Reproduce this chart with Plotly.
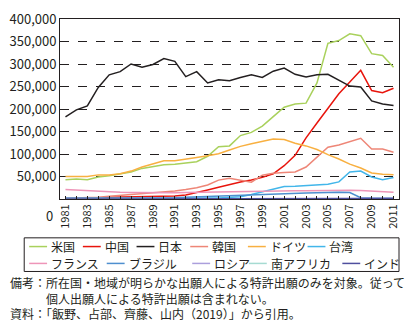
import plotly.graph_objects as go

years = list(range(1981, 2012))

us = [43000, 44500, 43000, 49000, 51500, 55000, 60000, 68000, 72500, 76000, 77500, 80000, 83000, 95000,
      116000, 118000, 141000, 148000, 162000, 183000, 204000, 211000, 213000, 258000, 346000, 352000,
      367000, 363000, 323000, 319000, 293000]
china = [100, 300, 400, 500, 4000, 4500, 5000, 5500, 5500, 6000, 6500, 9000, 14000, 20000, 26000, 32000,
         38000, 42000, 48000, 56000, 74000, 97000, 136000, 169000, 202000, 234000, 260000, 286000, 241000,
         236000, 246000]
japan = [182600, 198000, 207000, 248000, 276000, 283000, 300000, 293000, 299000, 312000, 306000, 272000,
         283000, 258000, 265000, 263000, 270000, 276000, 270000, 284000, 291000, 277000, 271000, 276000,
         277000, 264000, 251000, 249000, 218000, 211000, 208000]
korea = [1500, 2000, 2500, 4000, 6000, 8000, 10000, 11500, 13000, 15000, 18000, 21000, 25000, 31000, 42000,
         46000, 41000, 37500, 53000, 57000, 59000, 60000, 71000, 94000, 115000, 120000, 128000, 135000,
         111000, 111000, 104000]
germany = [50000, 50000, 50000, 53600, 53600, 56000, 62000, 71000, 77500, 85000, 85000, 88000, 92000, 96000,
           100600, 109000, 117000, 123000, 128000, 133500, 132000, 124000, 118000, 110000, 98500, 89000,
           77500, 69000, 58000, 55000, 54000]
taiwan = [500, 500, 500, 500, 500, 600, 600, 700, 800, 900, 1000, 1200, 1500, 2000, 2500, 3000, 5000,
          10000, 16000, 22000, 28000, 28500, 30000, 31000, 33000, 38000, 60000, 62000, 49000, 43000, 48000]
france = [21000, 19500, 18000, 17000, 16000, 15000, 14500, 14000, 14000, 14000, 14000, 14500, 15000, 15500,
          16000, 16500, 17000, 18000, 18500, 18500, 18500, 18500, 18500, 19000, 19500, 19500, 19500, 19000,
          18000, 17000, 15000]
brazil = [2000, 2000, 2000, 2000, 2000, 2000, 2000, 2000, 2000, 2000, 3000, 4000, 5000, 6000, 7000, 8000,
          9000, 10000, 11000, 12000, 12500, 13000, 13500, 14000, 15000, 15000, 14500, 3000, 2000, 1500, 1500]
russia = [0, 0, 0, 0, 0, 0, 0, 0, 0, 0, 300, 500, 800, 1000, 1000, 1000, 1000, 1000, 1200, 1200, 1300,
          1300, 1300, 1300, 1300, 1300, 1300, 1300, 1300, 1300, 1300]
safrica = [300] * 31
india = [100, 100, 100, 100, 100, 100, 100, 100, 100, 100, 100, 100, 100, 100, 200, 200, 300, 300, 400,
         500, 500, 600, 700, 800, 900, 1000, 1000, 1100, 1100, 1200, 1300]

names = ["米国", "中国", "日本", "韓国", "ドイツ", "台湾", "フランス", "ブラジル", "ロシア", "南アフリカ", "インド"]
values = [us, china, japan, korea, germany, taiwan, france, brazil, russia, safrica, india]
colors = ["#a9d15c", "#e8140c", "#231f20", "#ee8677", "#f8b041", "#42b6ea",
          "#ee95b8", "#4e8fcf", "#ab9fdc", "#a6dbd2", "#4f4f9e"]

note_lines = [
    "備考：所在国・地域が明らかな出願人による特許出願のみを対象。従って",
    "　　　個人出願人による特許出願は含まれない。",
    "資料：「飯野、占部、齊藤、山内（2019）」から引用。",
]

FONT = "Noto Sans CJK JP"
INK = "#231f20"
fig = go.Figure()
for name, vals, col in zip(names, values, colors):
    fig.add_trace(go.Scatter(x=years, y=vals, name=name, mode="lines",
                             line=dict(color=col, width=1.5), showlegend=False))

W, H = 409, 327
L, R, T, B = 58, 10, 9, 128
pw, ph = W - L - R, H - T - B

def px(xp):
    return (xp - L) / pw

def py(yp):
    return (H - B - yp) / ph

fig.update_layout(
    width=W, height=H,
    margin=dict(l=L, r=R, t=T, b=B),
    paper_bgcolor="white", plot_bgcolor="white",
    font=dict(family=FONT, size=11, color=INK),
    showlegend=False,
)
ticktext = [str(y) if y % 2 == 1 else "" for y in years]
fig.update_xaxes(range=[1980.5, 2011.5], tickvals=years, ticktext=ticktext, tickangle=-90,
                 ticks="inside", ticklen=3, tickcolor=INK, showgrid=False,
                 showline=True, linecolor=INK, linewidth=1, mirror=True,
                 tickfont=dict(size=11), zeroline=False)
fig.update_yaxes(range=[0, 400000], tickvals=list(range(50000, 400001, 50000)), tickformat=",d",
                 showgrid=True, gridcolor=INK, griddash="dash", gridwidth=1,
                 showline=True, linecolor=INK, linewidth=1, mirror=True,
                 ticks="", tickfont=dict(size=13), zeroline=False, ticklabeloverflow="allow")

fig.add_annotation(x=0, xref="paper", y=0, yref="y", text="0", showarrow=False,
                   xanchor="right", yanchor="middle", xshift=-5, yshift=-16,
                   font=dict(size=13, family=FONT))

# legend box drawn as layout shapes / annotations
fig.add_shape(type="rect", xref="paper", yref="paper", x0=px(22), x1=px(399), y0=py(240), y1=py(275.5),
              line=dict(color=INK, width=1), fillcolor="white", layer="above")
leg_pos = [(27, 249.2), (81, 249.2), (135, 249.2), (189, 249.2), (247, 249.2), (307, 249.2),
           (27, 267), (105, 267), (191, 267), (248, 267), (342, 267)]
for (lx, ly), name, col in zip(leg_pos, names, colors):
    fig.add_shape(type="line", xref="paper", yref="paper", x0=px(lx), x1=px(lx + 18),
                  y0=py(ly), y1=py(ly), line=dict(color=col, width=1.5))
    fig.add_annotation(x=px(lx + 21), xref="paper", y=py(ly), yref="paper", text=name,
                       showarrow=False, xanchor="left", yanchor="middle", borderpad=0,
                       font=dict(size=12, family=FONT, color=INK))

fig.add_annotation(x=px(7), xref="paper", y=py(303.5), yref="paper", text="<br>".join(note_lines),
                   showarrow=False, xanchor="left", yanchor="middle", align="left",
                   borderpad=0, font=dict(size=12, family=FONT, color=INK))

fig.write_html("out.html")
